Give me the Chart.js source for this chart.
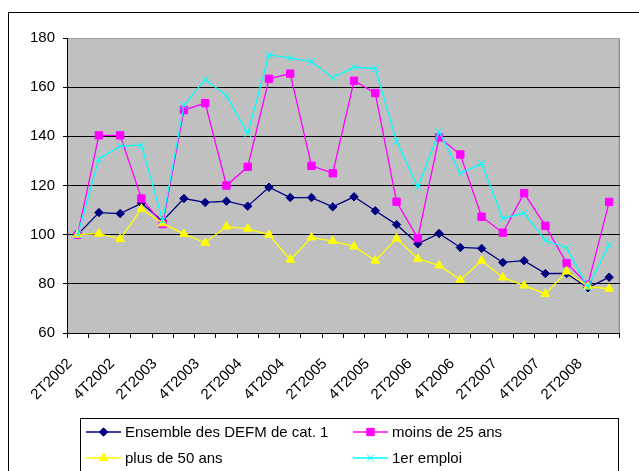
<!DOCTYPE html>
<html><head><meta charset="utf-8">
<script src="https://cdn.jsdelivr.net/npm/chart.js@4/dist/chart.umd.min.js"></script>
<style>html,body{margin:0;padding:0;background:#fff;overflow:hidden}#wrap{width:639px;height:471px}</style>
</head><body><div id="wrap"><canvas id="c" width="639" height="471"></canvas></div>
<script>
const categories = ['2T2002','3T2002','4T2002','1T2003','2T2003','3T2003','4T2003','1T2004','2T2004','3T2004','4T2004','1T2005','2T2005','3T2005','4T2005','1T2006','2T2006','3T2006','4T2006','1T2007','2T2007','3T2007','4T2007','1T2008','2T2008','3T2008'];
const tickLabels = ['2T2002','4T2002','2T2003','4T2003','2T2004','4T2004','2T2005','4T2005','2T2006','4T2006','2T2007','4T2007','2T2008'];
const yTicks = [60, 80, 100, 120, 140, 160, 180];
const ensemble = [100, 109.0, 108.6, 112.8, 105.6, 114.7, 113.1, 113.6, 111.6, 119.3, 115.1, 115.1, 111.3, 115.4, 109.7, 104.1, 96.3, 100.5, 94.8, 94.4, 88.7, 89.4, 84.2, 84.2, 78.4, 82.7];
const moins25 = [100, 140.4, 140.4, 114.7, 104.3, 150.7, 153.5, 120.0, 127.6, 163.4, 165.5, 128.0, 125.0, 162.6, 157.6, 113.4, 98.6, 139.6, 132.6, 107.3, 100.8, 116.9, 103.6, 88.4, 79.6, 113.3];
const plus50 = [100, 100.4, 98.2, 110.5, 104.6, 100.3, 96.7, 103.3, 102.4, 99.9, 89.8, 98.9, 97.4, 95.2, 89.4, 98.4, 90.2, 87.5, 81.6, 89.4, 82.6, 79.3, 75.9, 85.0, 78.9, 78.0];
const premierEmploi = [100, 130.8, 136.0, 136.4, 105.7, 152.6, 163.2, 156.5, 141.1, 173.2, 171.8, 170.4, 163.8, 168.1, 167.6, 138.0, 119.3, 141.9, 124.9, 128.9, 106.6, 108.8, 97.7, 94.6, 78.6, 95.9];
const seriesNames = ['Ensemble des DEFM de cat. 1', 'moins de 25 ans', 'plus de 50 ans', '1er emploi'];

const FONT = '"Liberation Sans", Arial, sans-serif';

const frame = {
  id: 'frame',
  beforeDraw(chart) {
    const ctx = chart.ctx, a = chart.chartArea;
    ctx.save();
    ctx.fillStyle = '#fff';
    ctx.fillRect(0, 0, chart.width, chart.height);
    ctx.strokeStyle = '#000';
    ctx.lineWidth = 1;
    ctx.strokeRect(8.5, 12.5, 800, 600);
    ctx.fillStyle = '#C0C0C0';
    ctx.fillRect(a.left, a.top, a.right - a.left, a.bottom - a.top);
    ctx.strokeStyle = '#808080';
    ctx.strokeRect(a.left + 0.5, a.top + 0.5, a.right - a.left - 1, a.bottom - a.top);
    ctx.restore();
  },
  afterDraw(chart) {
    const ctx = chart.ctx;
    ctx.save();
    ctx.fillStyle = '#fff';
    ctx.fillRect(80.5, 418.5, 538, 80);
    ctx.strokeStyle = '#000';
    ctx.lineWidth = 1;
    ctx.strokeRect(80.5, 418.5, 538, 80);
    const slots = [[86, 432], [353, 432], [86, 458], [353, 458]];
    chart.data.datasets.forEach((ds, i) => {
      const [x, y] = slots[i];
      ctx.strokeStyle = ds.borderColor;
      ctx.lineWidth = ds.borderWidth;
      ctx.beginPath(); ctx.moveTo(x, y); ctx.lineTo(x + 35, y); ctx.stroke();
      ctx.fillStyle = ds.pointBackgroundColor;
      ctx.strokeStyle = ds.pointBorderColor;
      ctx.lineWidth = ds.pointBorderWidth;
      Chart.helpers.drawPoint(ctx, {pointStyle: ds.pointStyle, radius: ds.pointRadius, rotation: 0, borderWidth: ds.pointBorderWidth}, x + 17.5, y);
      ctx.fillStyle = '#000';
      ctx.font = '15px ' + FONT;
      ctx.textBaseline = 'middle';
      ctx.textAlign = 'left';
      ctx.fillText(ds.label, x + 39, y + 1);
    });
    ctx.restore();
  }
};

const mk = (label, data, color, style, radius, order) => ({
  label, data, order,
  borderColor: color, borderWidth: 1.3,
  pointStyle: style, pointRadius: radius, pointHoverRadius: radius,
  pointBackgroundColor: color, pointBorderColor: color, pointBorderWidth: 1,
  tension: 0, fill: false
});

new Chart(document.getElementById('c'), {
  type: 'line',
  data: {
    labels: categories,
    datasets: [
      mk(seriesNames[0], ensemble, '#000080', 'rectRot', 4.2, 3),
      mk(seriesNames[1], moins25, '#FF00FF', 'rect', 5.2, 2),
      mk(seriesNames[2], plus50, '#FFFF00', 'triangle', 5, 1),
      mk(seriesNames[3], premierEmploi, '#00FFFF', 'crossRot', 5, 0)
    ]
  },
  options: {
    responsive: false, animation: false, devicePixelRatio: 1,
    layout: {padding: {top: 38, right: 6, left: 0, bottom: 0}},
    plugins: {legend: {display: false}, tooltip: {enabled: false}},
    scales: {
      x: {
        offset: true,
        grid: {offset: true, drawOnChartArea: false, drawTicks: true, tickLength: 5, color: '#000', tickColor: '#000'},
        border: {color: '#000', width: 1},
        ticks: {
          autoSkip: false, minRotation: 45, maxRotation: 45, color: '#000', padding: 17, labelOffset: -8,
          font: {family: FONT, size: 15},
          callback: (v, i) => tickLabels.includes(categories[i]) ? categories[i] : ''
        },
        afterFit: s => { s.height = 138; }
      },
      y: {
        min: 60, max: 180,
        afterBuildTicks: s => { s.ticks = yTicks.map(v => ({value: v})); },
        grid: {color: c => c.tick && c.tick.value === 180 ? '#A0A0A0' : '#000', tickColor: '#000', tickLength: 4, lineWidth: 1},
        border: {color: '#000', width: 1},
        ticks: {color: '#000', padding: 8, font: {family: FONT, size: 15}},
        afterFit: s => { s.width = 67; }
      }
    }
  },
  plugins: [frame]
});
</script>
</body></html>
